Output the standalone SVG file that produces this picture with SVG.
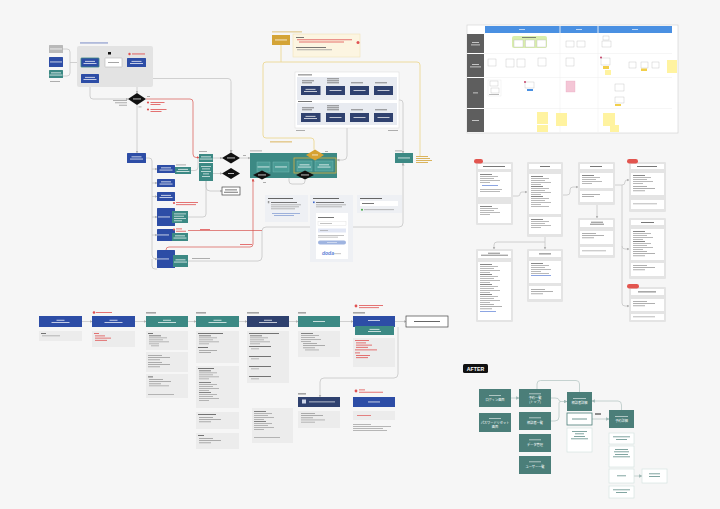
<svg xmlns="http://www.w3.org/2000/svg" width="720" height="509" viewBox="0 0 720 509">
<style>
.bl{fill:#2d4da6}
.tl{fill:#3c8984}
.nv{fill:#2f416f}
.at{fill:#4b7e79}
.wb{fill:#fff;stroke:#444;stroke-width:.7}
.sb{fill:#fff;stroke:#bdbdbd;stroke-width:.4}
.c{fill:none;stroke:#c6c6c6;stroke-width:.8}
.ca{fill:none;stroke:#b9c9c7;stroke-width:.8}
.cr{fill:none;stroke:#d9534f;stroke-width:.7}
.cy{fill:none;stroke:#ecd894;stroke-width:.9}
.g{fill:#9b9b9b}
.gd{fill:#555}
.r{fill:#e05252}
.y{fill:#d4a437}
.w{fill:#fff;opacity:.8}
.nt{fill:#ececec}
.cd{fill:#e4e4e4}
.in{fill:#fff}
.dk{fill:#111}
.pn{fill:#eef0f4}
.t{font-family:"Noto Sans CJK JP","Noto Sans",sans-serif;fill:#fff;font-size:3.2px;text-anchor:middle}
</style>
<defs>
<marker id="ah" viewBox="0 0 6 6" refX="5" refY="3" markerWidth="3" markerHeight="3" markerUnits="userSpaceOnUse" orient="auto"><path d="M0,0L6,3L0,6z" fill="#b0b0b0"/></marker>
<marker id="ahr" viewBox="0 0 6 6" refX="5" refY="3" markerWidth="3" markerHeight="3" markerUnits="userSpaceOnUse" orient="auto"><path d="M0,0L6,3L0,6z" fill="#d9534f"/></marker>
<marker id="aht" viewBox="0 0 6 6" refX="5" refY="3" markerWidth="3.5" markerHeight="3.5" markerUnits="userSpaceOnUse" orient="auto"><path d="M0,0L6,3L0,6z" fill="#9fb8b5"/></marker>
<g id="wl"><rect x="-5" y="-1.6" width="10" height="0.9" class="w"/><rect x="-6.5" y="0.6" width="13" height="0.9" class="w"/></g>
<g id="wl1"><rect x="-6" y="-0.5" width="12" height="0.9" class="w"/></g>
<g id="wlw"><rect x="-4" y="-1.7" width="8" height="0.9" class="w"/><rect x="-9" y="0.6" width="18" height="0.9" class="w"/></g>
<g id="l3"><rect x="0" y="0" width="14" height="0.8" class="g"/><rect x="0" y="2.2" width="22" height="0.8" class="g"/><rect x="0" y="4.4" width="12" height="0.8" class="g"/></g>
<g id="l2"><rect x="0" y="0" width="18" height="0.8" class="g"/><rect x="0" y="2.2" width="12" height="0.8" class="g"/></g>
<g id="r3"><rect x="0" y="0" width="10" height="0.8" class="r"/><rect x="0" y="2.2" width="16" height="0.8" class="r"/><rect x="0" y="4.4" width="12" height="0.8" class="r"/></g>
<g id="c5"><rect x="0" y="0" width="12" height="0.7" class="gd"/><rect x="0" y="2" width="18" height="0.7" class="g"/><rect x="0" y="4" width="14" height="0.7" class="g"/><rect x="0" y="6" width="20" height="0.7" class="g"/><rect x="0" y="8" width="10" height="0.7" class="g"/></g>
</defs>

<rect x="0" y="0" width="720" height="509" fill="#f6f6f6"/>

<!-- ============ CONNECTORS ============ -->
<g id="connectors">
  <!-- top-left -->
  <path class="c" d="M63,49 H67 Q70,49 70,52 V73 Q70,76 67,76 H63"/>
  <path class="c" d="M70,62.5 H81" marker-end="url(#ah)"/>
  <path class="c" d="M99,62.5 H105" marker-end="url(#ah)"/>
  <path class="c" d="M122,62.5 H127" marker-end="url(#ah)"/>
  <path class="c" d="M137,67 V93" marker-end="url(#ah)"/>
  <path class="c" d="M90,83 V96 Q90,99 93,99 H128" marker-end="url(#ah)"/>
  <path class="c" d="M99,78.5 H228 Q231,78.5 231,81.5 V152.5" marker-end="url(#ah)"/>
  <path class="c" d="M137,105 V153" marker-end="url(#ah)"/>
  <path class="cr" d="M146,99 H190 Q193,99 193,102 V154 Q193,157.5 196,157.5 H199" marker-end="url(#ahr)"/>
  <!-- middle-left column -->
  <path class="c" d="M146,158 H149 Q152,158 152,161 V255 Q152,259 156,259 H157" marker-end="url(#ah)"/>
  <path class="c" d="M152,169 H157" marker-end="url(#ah)"/>
  <path class="c" d="M152,183 H157" marker-end="url(#ah)"/>
  <path class="c" d="M152,196.5 H157" marker-end="url(#ah)"/>
  <path class="c" d="M152,217 H157" marker-end="url(#ah)"/>
  <path class="c" d="M152,235 H157" marker-end="url(#ah)"/>
  <path class="c" d="M191,170.5 H195 Q198,170.5 198,167 V160 Q198,158 199,158"/>
  <path class="c" d="M188,217 H203 Q206,217 206,214 V181"/>
  <path class="c" d="M213,158 H222" marker-end="url(#ah)"/>
  <path class="c" d="M240,158 H250" marker-end="url(#ah)"/>
  <path class="c" d="M213,173.5 H222" marker-end="url(#ah)"/>
  <path class="c" d="M206,181 V187 Q206,191 210,191 H222" marker-end="url(#ah)"/>
  <path class="c" d="M188,261 H258 Q262,261 262,257 V231 Q262,227 266,227 H399 Q403,227 403,223 V163" marker-end="url(#ah)"/>
  <path class="c" d="M152,259 V266 Q152,269 155,269 H157"/>
  <path class="cr" d="M188,230.5 H262"/>
  <path class="cr" d="M166,250 V250 Q166,247 169,247 H250 Q253,247 253,244 V179" marker-end="url(#ahr)"/>
  <!-- middle region -->
  <path class="c" d="M297,175 H292 Q289,175 289,178 V181 Q289,184 292,184 H302 Q305,184 305,181 V180"/>
  <path class="c" d="M347,128 V156 Q347,160 343,160 H337" marker-end="url(#ah)"/>
  <path class="c" d="M399,100 H400 Q403,100 403,103 V153" marker-end="url(#ah)"/>
  <path class="c" d="M320.5,90.5 H326" marker-end="url(#ah)"/>
  <path class="c" d="M345,90.5 H350" marker-end="url(#ah)"/>
  <path class="c" d="M369,90.5 H374" marker-end="url(#ah)"/>
  <path class="c" d="M320.5,117.5 H326" marker-end="url(#ah)"/>
  <path class="c" d="M345,117.5 H350" marker-end="url(#ah)"/>
  <path class="c" d="M369,117.5 H374" marker-end="url(#ah)"/>
  <!-- yellow -->
  <path class="cy" d="M281,45 V62"/>
  <path class="cy" d="M266,62 H417 Q420,62 420,65 V156"/>
  <path class="cy" d="M266,62 Q263,62 263,65 V135 Q263,138 266,138 H311 Q314,138 314,141 V149.5"/>
  <!-- bottom-left row -->
  <path class="c" d="M82,321.5 H92" marker-end="url(#ah)"/>
  <path class="c" d="M135,321.5 H146" marker-end="url(#ah)"/>
  <path class="c" d="M188,321.5 H196" marker-end="url(#ah)"/>
  <path class="c" d="M239,321.5 H247" marker-end="url(#ah)"/>
  <path class="c" d="M289,321.5 H298" marker-end="url(#ah)"/>
  <path class="c" d="M340,321.5 H353" marker-end="url(#ah)"/>
  <path class="c" d="M395,321.5 H406" marker-end="url(#ah)"/>
  <path class="c" d="M398,327 V374 Q398,378 394,378 H324 Q320,378 320,382 V397" marker-end="url(#ah)"/>
  <!-- right cards -->
  <path class="c" d="M513,196 H518 Q520,196 520,194 Q520,192 522,192 H527" marker-end="url(#ah)"/>
  <path class="c" d="M563,195 H567 Q570,195 570,192 V190 Q570,187 573,187 H578" marker-end="url(#ah)"/>
  <path class="c" d="M615,185 H622 Q625,185 625,182 Q625,180 627,180 H629" marker-end="url(#ah)"/>
  <path class="c" d="M622,185 V246 Q622,249 625,249 H629" marker-end="url(#ah)"/>
  <path class="c" d="M622,246 V303 Q622,306 625,306 H629" marker-end="url(#ah)"/>
  <path class="c" d="M597,205 V218" marker-end="url(#ah)"/>
  <path class="c" d="M545,237 V249" marker-end="url(#ah)"/>
  <path class="c" d="M545,242 H497 Q494,242 494,245 V249" marker-end="url(#ah)"/>
  <!-- AFTER -->
  <path class="ca" d="M511,398 H519" marker-end="url(#aht)"/>
  <path class="ca" d="M537,389 V384 Q537,380.5 540.5,380.5 H576 Q579.5,380.5 579.5,384 V392"/>
  <path class="ca" d="M551,398 H555 Q559,398 559,400 Q559,401.5 561,401.5 H567" marker-end="url(#aht)"/>
  <path class="ca" d="M551,421 H555 Q559,421 559,417 V403 Q559,401.5 561,401.5"/>
  <path class="ca" d="M592,419 H609" marker-end="url(#aht)"/>
  <path class="ca" d="M621.5,410 V405 Q621.5,401 618,401 H592" marker-end="url(#aht)"/>
  <path class="ca" d="M634,476 H642" marker-end="url(#aht)"/>
  <!-- swimlane -->
  <path class="c" d="M519,48 V56 Q519,62 521,59"/>
  <path class="c" d="M529.5,48 V82"/>
  <path class="c" d="M519,66 Q517,80 526,84"/>
  <path class="c" d="M542,48 V58"/>
  <path class="c" d="M574,87 Q570,108 566,113"/>
  <path class="c" d="M607,47 Q618,52 617,84"/>
  <path class="c" d="M606,43 V57"/>
  <path class="c" d="M619,91 V97"/>
</g>

<!-- ============ TOP-LEFT FLOW ============ -->
<g id="region-top"><rect x="77" y="46" width="76" height="41" rx="2" fill="#e3e3e3"/><rect x="80" y="42.5" width="28" height="0.9" fill="#6d80c0"/></g>
<g id="src-1"><rect x="49" y="45" width="14" height="8" rx="0.5" fill="#b9b9b9"/><use href="#wl1" x="56" y="49"/></g>
<g id="src-2"><rect x="49" y="57" width="14" height="10" rx="0.5" class="bl"/><use href="#wl1" x="56" y="62"/></g>
<g id="src-3"><rect x="49" y="70" width="14" height="8" rx="0.5" class="tl"/><use href="#wl" x="56" y="74"/><rect x="50" y="81" width="10" height="0.8" class="g"/></g>
<g id="node-a"><rect x="81" y="58" width="18" height="9" rx="0.5" class="bl" stroke="#3c8984" stroke-width="0.8"/><use href="#wl" x="90" y="62.5"/></g>
<g id="node-b"><rect x="105" y="58" width="17" height="9" rx="0.5" fill="#fff" stroke="#b5b5b5" stroke-width="0.6"/><rect x="108" y="62" width="11" height="0.9" class="g"/><rect x="108" y="52" width="3" height="2.5" class="dk"/></g>
<g id="node-c"><rect x="127" y="58" width="19" height="9" rx="0.5" class="bl"/><use href="#wl" x="136.5" y="62.5"/><circle cx="129.5" cy="54" r="1.2" class="r"/><rect x="132" y="53.5" width="13" height="0.9" class="r"/></g>
<g id="node-d"><rect x="81" y="74" width="18" height="9" rx="0.5" class="bl"/><use href="#wl" x="90" y="78.5"/></g>
<g id="dia-1"><polygon points="137,93 146,99 137,105 128,99" class="dk"/><rect x="133" y="98.5" width="8" height="0.9" class="w"/>
  <rect x="113" y="100" width="14" height="0.8" class="g"/><rect x="115" y="102.4" width="12" height="0.8" class="g"/><rect x="119" y="104.8" width="8" height="0.8" class="g"/>
  <rect x="147" y="96" width="3" height="0.8" class="g"/><rect x="138.5" y="106.5" width="3" height="0.8" class="g"/>
  <circle cx="148" cy="102.5" r="1.1" class="r"/><rect x="150.5" y="102" width="14" height="0.8" class="r"/><rect x="150.5" y="104" width="10" height="0.8" class="r"/>
  <circle cx="148" cy="109.5" r="1.1" class="r"/><rect x="150.5" y="109" width="16" height="0.8" class="r"/><rect x="150.5" y="111" width="11" height="0.8" class="r"/></g>

<!-- ============ MIDDLE-LEFT ============ -->
<g id="node-e"><rect x="127" y="153" width="19" height="10" rx="0.5" class="bl"/><use href="#wl" x="136.5" y="158"/></g>
<g id="node-f1"><rect x="157" y="165" width="18" height="8" rx="0.5" class="bl"/><use href="#wl" x="166" y="169"/><rect x="175" y="167" width="16" height="7" class="tl"/><use href="#wl" x="183" y="170.5"/><rect x="176" y="164.5" width="10" height="0.8" class="g"/></g>
<g id="node-f2"><rect x="157" y="179" width="18" height="8" rx="0.5" class="bl"/><use href="#wl" x="166" y="183"/></g>
<g id="node-f3"><rect x="157" y="192" width="18" height="9" rx="0.5" class="bl"/><use href="#wl" x="166" y="196.5"/></g>
<g id="node-f4"><rect x="157" y="208" width="18" height="18" rx="0.5" class="bl"/><use href="#wl1" x="164" y="217"/><rect x="172" y="211" width="16" height="12" class="tl"/><rect x="174" y="213.5" width="12" height="0.8" class="w"/><rect x="174" y="215.8" width="10" height="0.8" class="w"/><rect x="174" y="218.1" width="12" height="0.8" class="w"/><rect x="174" y="220.4" width="8" height="0.8" class="w"/>
  <circle cx="174" cy="203" r="1.1" class="r"/><rect x="176" y="202" width="22" height="0.8" class="r"/><rect x="176" y="204.3" width="20" height="0.8" class="r"/></g>
<g id="node-f5"><rect x="157" y="229" width="18" height="12" rx="0.5" class="bl"/><use href="#wl1" x="163" y="235"/><rect x="172" y="233" width="16" height="8" class="tl"/><use href="#wl" x="180" y="237"/>
  <circle cx="174" cy="229.5" r="1.1" class="r"/><rect x="176" y="228.5" width="6" height="0.8" class="r"/><rect x="176" y="230.8" width="10" height="0.8" class="r"/></g>
<g id="node-f6"><rect x="157" y="250" width="18" height="18" rx="0.5" class="bl"/><use href="#wl1" x="163" y="259"/><rect x="173" y="255" width="15" height="12" class="tl"/><use href="#wl" x="180.5" y="261"/><rect x="192" y="258" width="18" height="0.8" class="g"/></g>
<g id="node-g1"><rect x="199" y="154" width="14" height="8" class="tl"/><use href="#wl" x="206" y="158"/><rect x="199" y="151" width="8" height="0.8" class="g"/></g>
<g id="node-g2"><rect x="199" y="163" width="14" height="18" class="tl"/><rect x="201" y="166" width="10" height="0.8" class="w"/><rect x="202" y="168.5" width="8" height="0.8" class="w"/><rect x="201" y="171" width="10" height="0.8" class="w"/><rect x="203" y="173.5" width="6" height="0.8" class="w"/><rect x="202" y="176" width="8" height="0.8" class="w"/></g>
<g id="dia-2"><polygon points="231,152.5 240,158 231,163.5 222,158" class="dk"/><rect x="227" y="157.5" width="8" height="0.9" class="w"/><rect x="243" y="155" width="3" height="0.8" class="g"/></g>
<g id="dia-3"><polygon points="231,168 240,173.5 231,179 222,173.5" class="dk"/><rect x="228" y="173" width="6" height="0.9" class="w"/></g>
<g id="node-h"><rect x="222" y="187" width="18" height="8" class="wb"/><rect x="225" y="189.5" width="12" height="0.8" class="gd"/><rect x="224" y="191.8" width="14" height="0.8" class="gd"/></g>
<g id="red-notes"><rect x="240" y="244" width="12" height="0.8" class="r"/><rect x="200" y="229" width="10" height="0.8" class="r"/></g>

<!-- ============ TEAL REGION ============ -->
<g id="region-teal"><rect x="250" y="153" width="87" height="25" class="tl"/><rect x="250" y="150.5" width="12" height="0.8" class="g"/>
  <rect x="257" y="162" width="13" height="10" fill="#4a9c96" stroke="#7fc0bb" stroke-width="0.4"/><use href="#wl1" x="263.5" y="167"/>
  <rect x="273" y="162" width="16" height="10" fill="#4a9c96" stroke="#7fc0bb" stroke-width="0.4"/><use href="#wl1" x="281" y="167"/>
  <rect x="294" y="158" width="42" height="15" fill="none" stroke="#d9b040" stroke-width="0.8"/>
  <rect x="297" y="161" width="15" height="10" fill="#4a9c96" stroke="#7fc0bb" stroke-width="0.4"/><use href="#wl" x="304.5" y="166"/>
  <rect x="315" y="161" width="18" height="10" fill="#4a9c96" stroke="#7fc0bb" stroke-width="0.4"/><use href="#wl" x="324" y="166"/></g>
<g id="dia-gold"><polygon points="315,149.5 324,155 315,160.5 306,155" fill="#d6a232"/><rect x="312" y="154.5" width="6" height="0.9" class="w"/><rect x="325" y="151" width="3" height="0.8" class="g"/></g>
<g id="dia-4"><polygon points="262,170.5 271,175 262,179.5 253,175" class="dk"/><rect x="258" y="174.5" width="8" height="0.9" class="w"/><rect x="263" y="182" width="3" height="0.8" class="g"/></g>
<g id="dia-5"><polygon points="305,170.5 314,175 305,179.5 296,175" class="dk"/><rect x="301" y="174.5" width="8" height="0.9" class="w"/></g>
<g id="node-teal-r"><rect x="395" y="153" width="18" height="10" class="tl"/><use href="#wl1" x="404" y="158"/><rect x="395" y="150.5" width="7" height="0.8" class="g"/>
  <rect x="416" y="156" width="12" height="0.8" class="y"/><rect x="416" y="158" width="14" height="0.8" class="y"/><rect x="416" y="160" width="16" height="0.8" class="y"/><rect x="416" y="162" width="12" height="0.8" class="y"/></g>

<!-- ============ GOLD + NOTE ============ -->
<g id="node-gold"><rect x="272" y="35" width="18" height="10" fill="#d4a437"/><use href="#wl1" x="281" y="40"/><rect x="272" y="31.5" width="30" height="0.8" fill="#d8b45a"/></g>
<g id="note-cream"><rect x="293" y="34" width="67" height="23" fill="#fcf5e1" stroke="#efe0b0" stroke-width="0.5"/>
  <rect x="296" y="37" width="8" height="0.8" class="gd"/><rect x="297" y="39.4" width="55" height="0.8" class="r"/><rect x="299" y="41.6" width="45" height="0.8" class="r"/>
  <circle cx="358" cy="42.5" r="1.5" class="r"/><rect x="296" y="47" width="30" height="0.8" class="gd"/><rect x="297" y="49.4" width="35" height="0.8" class="g"/>
  <rect x="270" y="141.5" width="22" height="0.8" class="y"/></g>

<!-- ============ BIG PANEL ============ -->
<g id="panel-main"><rect x="295" y="72" width="104" height="56" fill="#fff" stroke="#d9d9d9" stroke-width="0.5"/>
  <rect x="298" y="74.5" width="14" height="0.8" class="gd"/>
  <rect x="297" y="77" width="100" height="23" fill="#e8ebf1"/><rect x="298" y="101" width="14" height="0.8" class="gd"/>
  <rect x="297" y="103" width="100" height="22" fill="#e8ebf1"/>
  <rect x="296" y="130" width="9" height="0.8" class="g"/><rect x="388" y="130" width="10" height="0.8" class="g"/></g>
<g id="p-n1"><rect x="301" y="86" width="19.5" height="9" class="nv"/><use href="#wl" x="310.5" y="90.5"/><rect x="302" y="80.5" width="12" height="0.7" class="gd"/><rect x="302" y="82.5" width="10" height="0.7" class="gd"/></g>
<g id="p-n2"><rect x="326" y="86" width="19" height="9" class="nv"/><use href="#wl1" x="335.5" y="90.5"/><rect x="327" y="78.5" width="12" height="0.7" class="gd"/><rect x="327" y="80.5" width="12" height="0.7" class="gd"/><rect x="327" y="82.5" width="12" height="0.7" class="gd"/></g>
<g id="p-n3"><rect x="350" y="86" width="19" height="9" class="nv"/><use href="#wl1" x="359.5" y="90.5"/><rect x="351" y="82.5" width="12" height="0.7" class="gd"/></g>
<g id="p-n4"><rect x="374" y="86" width="19" height="9" class="nv"/><use href="#wl1" x="383.5" y="90.5"/><rect x="375" y="82.5" width="12" height="0.7" class="gd"/></g>
<g id="p-n5"><rect x="301" y="113" width="19.5" height="9" class="nv"/><use href="#wl" x="310.5" y="117.5"/><rect x="302" y="107.5" width="12" height="0.7" class="gd"/><rect x="302" y="109.5" width="10" height="0.7" class="gd"/></g>
<g id="p-n6"><rect x="326" y="113" width="19" height="9" class="nv"/><use href="#wl1" x="335.5" y="117.5"/><rect x="327" y="105.5" width="12" height="0.7" class="gd"/><rect x="327" y="107.5" width="12" height="0.7" class="gd"/><rect x="327" y="109.5" width="12" height="0.7" class="gd"/></g>
<g id="p-n7"><rect x="350" y="113" width="19" height="9" class="nv"/><use href="#wl1" x="359.5" y="117.5"/><rect x="351" y="109.5" width="12" height="0.7" class="gd"/></g>
<g id="p-n8"><rect x="374" y="113" width="19" height="9" class="nv"/><use href="#wl1" x="383.5" y="117.5"/><rect x="375" y="109.5" width="12" height="0.7" class="gd"/></g>

<!-- ============ SCREEN PANELS ============ -->
<g id="screen-1"><rect x="265" y="195" width="43" height="27" class="pn"/>
  <rect x="268" y="198" width="25" height="0.9" class="gd"/><rect x="268" y="201.5" width="1.6" height="1.6" fill="#fff" stroke="#888" stroke-width="0.3"/><rect x="271" y="202" width="26" height="0.8" class="gd"/>
  <rect x="271" y="204.5" width="30" height="0.7" class="g"/><rect x="271" y="206.5" width="28" height="0.7" class="g"/><rect x="271" y="208.5" width="24" height="0.7" class="g"/>
  <rect x="272" y="213" width="28" height="0.7" fill="#7a95d0"/><rect x="274" y="215" width="20" height="0.7" fill="#7a95d0"/></g>
<g id="screen-2"><rect x="310" y="195" width="43" height="67" class="pn"/>
  <rect x="313" y="198" width="26" height="0.9" class="gd"/><rect x="313" y="201.5" width="1.6" height="1.6" fill="#3b66cc"/><rect x="316" y="202" width="28" height="0.8" class="gd"/>
  <rect x="316" y="204.5" width="30" height="0.7" class="g"/><rect x="316" y="206.5" width="26" height="0.7" class="g"/>
  <rect x="316" y="213" width="32" height="46" fill="#fff"/>
  <rect x="318" y="217" width="16" height="0.8" class="gd"/>
  <rect x="318" y="221.5" width="28" height="4" fill="#fff" stroke="#ddd" stroke-width="0.4"/><rect x="320" y="223.2" width="12" height="0.6" class="g"/>
  <rect x="318" y="228.5" width="28" height="4" fill="#e2e7f5"/><rect x="320" y="230.2" width="8" height="0.6" class="g"/>
  <rect x="318" y="235" width="26" height="0.6" class="g"/><rect x="318" y="236.8" width="20" height="0.6" class="g"/>
  <rect x="318" y="240.5" width="28" height="4" rx="2" fill="#9fb4e0"/><rect x="327" y="242.2" width="10" height="0.6" class="w"/>
  <text x="328" y="255" font-family="Liberation Sans, Arial, sans-serif" font-size="5" font-weight="bold" font-style="italic" fill="#5b7fd6" text-anchor="middle">doda</text><rect x="334" y="253.5" width="7" height="0.6" class="g"/></g>
<g id="screen-3"><rect x="357" y="195" width="45" height="18" class="pn"/>
  <rect x="360" y="198" width="22" height="0.9" class="gd"/><rect x="360" y="201" width="38" height="5" fill="#fff"/><rect x="362" y="203" width="12" height="0.8" class="gd"/>
  <circle cx="362" cy="209.8" r="1" fill="#3aa53a"/><rect x="364" y="209.4" width="30" height="0.7" class="g"/></g>

<!-- ============ SWIMLANE (top-right) ============ -->
<g id="swimlane">
  <rect x="467" y="25" width="211" height="108" fill="#fff" stroke="#cfcfcf" stroke-width="0.6"/>
  <rect x="485" y="26" width="187" height="7" fill="#4a90e2"/>
  <line x1="560" y1="26" x2="560" y2="132" stroke="#ececec" stroke-width="0.5"/>
  <line x1="598" y1="26" x2="598" y2="132" stroke="#ececec" stroke-width="0.5"/>
  <line x1="560" y1="26" x2="560" y2="33" stroke="#fff" stroke-width="0.5"/>
  <line x1="598" y1="26" x2="598" y2="33" stroke="#fff" stroke-width="0.5"/>
  <rect x="519" y="29" width="6" height="0.8" class="w"/><rect x="576" y="29" width="6" height="0.8" class="w"/><rect x="632" y="29" width="6" height="0.8" class="w"/>
  <line x1="484" y1="53.5" x2="672" y2="53.5" stroke="#ececec" stroke-width="0.5"/>
  <line x1="484" y1="77.5" x2="672" y2="77.5" stroke="#ececec" stroke-width="0.5"/>
  <line x1="484" y1="108.5" x2="672" y2="108.5" stroke="#ececec" stroke-width="0.5"/>
  <rect x="467" y="34" width="17" height="19" fill="#5e5e5e"/><rect x="472" y="42" width="7" height="0.8" class="w"/><rect x="471" y="44.5" width="9" height="0.8" class="w"/>
  <rect x="467" y="54" width="17" height="23" fill="#5e5e5e"/><rect x="472" y="64" width="7" height="0.8" class="w"/><rect x="470" y="66.5" width="11" height="0.8" class="w"/>
  <rect x="467" y="78" width="17" height="30" fill="#5e5e5e"/><rect x="473" y="92.5" width="5" height="0.8" class="w"/>
  <rect x="467" y="109" width="17" height="23" fill="#5e5e5e"/><rect x="472" y="120" width="7" height="0.8" class="w"/>
  <rect x="512" y="36" width="35" height="12" rx="2" fill="#d9eeac"/><rect x="522" y="37.3" width="14" height="0.7" class="gd"/>
  <rect x="514" y="40" width="9" height="7" class="sb"/><rect x="525.5" y="40" width="9" height="7" class="sb"/><rect x="537" y="40" width="9" height="7" class="sb"/>
  <rect x="566" y="41" width="8" height="6" class="sb"/><rect x="577" y="41" width="8" height="6" class="sb"/>
  <rect x="603" y="36" width="6" height="4" class="sb"/><rect x="602" y="41" width="9" height="6" class="sb"/>
  <rect x="488" y="59" width="8" height="7" class="sb"/><rect x="506" y="59" width="8" height="8" class="sb"/><rect x="517" y="59" width="8" height="8" class="sb"/><rect x="538" y="58" width="8" height="8" class="sb"/>
  <rect x="566" y="58" width="8" height="8" class="sb"/>
  <rect x="601" y="58" width="9" height="7" class="sb"/><circle cx="601" cy="57.5" r="0.9" fill="#c0305a"/><rect x="603" y="66" width="6" height="3" fill="#f2cf4a"/><rect x="605" y="70" width="6" height="5" fill="#fff3a0"/>
  <rect x="629" y="62" width="7" height="6" class="sb"/><rect x="641" y="62" width="7" height="6" class="sb"/><rect x="641" y="68.5" width="6" height="2.5" fill="#f2cf4a"/><rect x="652" y="62" width="7" height="6" class="sb"/>
  <rect x="667" y="60" width="10" height="13" fill="#fff3a0"/>
  <rect x="488" y="80" width="13" height="16" fill="#fff" stroke="#e5e5e5" stroke-width="0.4"/><rect x="490" y="81" width="8" height="5" class="sb"/><rect x="491" y="88" width="8" height="5" class="sb"/><rect x="489" y="94" width="10" height="0.7" class="g"/>
  <rect x="525" y="82" width="9" height="6" class="sb"/><circle cx="525" cy="82" r="0.9" fill="#c0305a"/><rect x="527" y="89" width="6" height="2" fill="#4a90e2"/>
  <rect x="566" y="81" width="9" height="11" fill="#f4c6d6" stroke="#e6a4bb" stroke-width="0.3"/>
  <rect x="615" y="84" width="9" height="7" class="sb"/><rect x="615" y="97" width="9" height="6" class="sb"/><rect x="615" y="104" width="6" height="2" fill="#f2cf4a"/>
  <rect x="537" y="112" width="11" height="12" fill="#fff3a0"/><rect x="537" y="125" width="11" height="7" fill="#fff3a0"/>
  <rect x="556" y="113" width="11" height="13" fill="#fff3a0"/>
  <rect x="603" y="113" width="12" height="13" fill="#fff3a0"/><rect x="610" y="125" width="9" height="7" fill="#fff3a0"/>
</g>

<!-- ============ RIGHT CARDS ============ -->
<g id="card-1"><rect x="476" y="162" width="37" height="63" rx="1" class="cd"/><rect x="474" y="159" width="9" height="4.5" rx="2.2" fill="#e2554f"/>
  <rect x="478" y="164" width="33" height="5" class="in"/><rect x="483" y="166" width="22" height="0.8" class="gd"/>
  <rect x="478" y="172" width="33" height="25" class="in"/><use href="#c5" x="480" y="174"/><rect x="482" y="185" width="16" height="0.7" fill="#5b7fd6"/><rect x="480" y="189" width="22" height="0.7" class="g"/><rect x="480" y="191" width="20" height="0.7" class="g"/>
  <rect x="478" y="204" width="33" height="19" class="in"/><use href="#c5" x="480" y="206"/></g>
<g id="card-2"><rect x="527" y="162" width="36" height="75" rx="1" class="cd"/>
  <rect x="529" y="164" width="32" height="5" class="in"/><rect x="540" y="166" width="10" height="0.8" class="gd"/>
  <rect x="529" y="174" width="32" height="40" class="in"/><use href="#c5" x="531" y="176"/><use href="#c5" x="531" y="186"/><use href="#c5" x="531" y="196"/><rect x="531" y="206" width="18" height="0.7" class="g"/>
  <rect x="529" y="217" width="32" height="17" class="in"/><use href="#c5" x="531" y="219"/></g>
<g id="card-3"><rect x="578" y="162" width="37" height="43" rx="1" class="cd"/>
  <rect x="580" y="164" width="33" height="5" class="in"/><rect x="590" y="166" width="12" height="0.8" class="gd"/>
  <rect x="580" y="173" width="33" height="15" class="in"/><use href="#c5" x="582" y="175"/>
  <rect x="580" y="191" width="33" height="11" class="in"/><use href="#l2" x="582" y="194"/></g>
<g id="card-4"><rect x="629" y="162" width="37" height="50" rx="1" class="cd"/><rect x="627" y="159" width="11" height="4.5" rx="2.2" fill="#e2554f"/>
  <rect x="631" y="164" width="33" height="5" class="in"/><rect x="637" y="166" width="20" height="0.8" class="gd"/>
  <rect x="631" y="173" width="33" height="22" class="in"/><use href="#c5" x="633" y="175"/><use href="#l3" x="633" y="186"/>
  <rect x="631" y="200" width="33" height="9" class="in"/><rect x="633" y="203.5" width="24" height="0.7" class="g"/></g>
<g id="card-5"><rect x="578" y="218" width="37" height="40" rx="1" class="cd"/>
  <rect x="580" y="220" width="33" height="7" class="in"/><rect x="591" y="221.8" width="12" height="0.7" class="gd"/><rect x="590" y="223.8" width="14" height="0.7" class="gd"/>
  <rect x="580" y="231" width="33" height="13" class="in"/><use href="#l3" x="582" y="233"/>
  <rect x="580" y="247" width="33" height="8" class="in"/><rect x="582" y="250.5" width="24" height="0.7" class="g"/></g>
<g id="card-6"><rect x="629" y="218" width="37" height="61" rx="1" class="cd"/>
  <rect x="631" y="220" width="33" height="5" class="in"/><rect x="641" y="222" width="13" height="0.8" class="gd"/>
  <rect x="631" y="229" width="33" height="31" class="in"/><use href="#c5" x="633" y="231"/><use href="#c5" x="633" y="241"/><use href="#l3" x="633" y="251"/>
  <rect x="631" y="263" width="33" height="13" class="in"/><use href="#l3" x="633" y="265"/></g>
<g id="card-7"><rect x="476" y="249" width="37" height="73" rx="1" class="cd"/>
  <rect x="478" y="251" width="33" height="7" class="in"/><rect x="488" y="252.8" width="12" height="0.7" class="gd"/><rect x="481" y="254.8" width="27" height="0.7" class="gd"/>
  <rect x="478" y="262" width="33" height="58" class="in"/><use href="#c5" x="480" y="264"/><use href="#c5" x="480" y="274"/><use href="#c5" x="480" y="284"/><use href="#c5" x="480" y="294"/><use href="#l3" x="480" y="304"/><rect x="480" y="311" width="16" height="0.7" fill="#5b7fd6"/></g>
<g id="card-8"><rect x="527" y="249" width="36" height="53" rx="1" class="cd"/>
  <rect x="529" y="251" width="32" height="6" class="in"/><rect x="539" y="253.5" width="12" height="0.8" class="gd"/>
  <rect x="529" y="261" width="32" height="22" class="in"/><use href="#c5" x="531" y="263"/><rect x="531" y="273" width="18" height="0.7" class="g"/><rect x="531" y="275" width="20" height="0.7" fill="#5b7fd6"/>
  <rect x="529" y="286" width="32" height="13" class="in"/><use href="#l3" x="531" y="289"/></g>
<g id="card-9"><rect x="629" y="287" width="37" height="35" rx="1" class="cd"/><rect x="627" y="284" width="12" height="4.5" rx="2.2" fill="#e2554f"/>
  <rect x="631" y="289" width="33" height="6" class="in"/><rect x="638" y="291.5" width="18" height="0.8" class="gd"/>
  <rect x="631" y="299" width="33" height="12" class="in"/><use href="#l3" x="633" y="301"/>
  <rect x="631" y="314" width="33" height="6" class="in"/><rect x="633" y="316.5" width="22" height="0.7" class="g"/></g>

<!-- ============ BOTTOM-LEFT ROW ============ -->
<g id="step-1"><rect x="39" y="316" width="43" height="11" class="bl"/><use href="#wlw" x="60.5" y="321.5"/>
  <rect x="39" y="331" width="43" height="10" class="nt"/><rect x="41" y="333" width="5" height="0.8" class="gd"/><rect x="42" y="335.5" width="18" height="0.7" class="g"/></g>
<g id="step-2"><rect x="92" y="316" width="43" height="11" class="bl"/><use href="#wlw" x="113.5" y="321.5"/>
  <circle cx="94" cy="312.5" r="1.3" class="r"/><rect x="96" y="312" width="16" height="0.8" class="r"/>
  <rect x="92" y="331" width="43" height="16" class="nt"/><rect x="94" y="333" width="5" height="0.8" class="r"/><use href="#r3" x="95" y="335.5"/></g>
<g id="step-3"><rect x="146" y="316" width="42" height="11" class="tl"/><use href="#wlw" x="167" y="321.5"/><rect x="146" y="312.5" width="10" height="0.8" class="gd"/>
  <rect x="146" y="331" width="42" height="19" class="nt"/><rect x="148" y="333" width="5" height="0.8" class="gd"/><use href="#c5" x="149" y="335.5"/><rect x="151" y="345.5" width="8" height="0.7" class="g"/>
  <rect x="146" y="352" width="42" height="20" class="nt"/><use href="#l3" x="148" y="355"/><use href="#l3" x="148" y="362"/>
  <rect x="146" y="374" width="42" height="24" class="nt"/><rect x="148" y="376.5" width="5" height="0.8" class="gd"/><use href="#l3" x="149" y="379"/><rect x="149" y="385.5" width="20" height="0.7" class="g"/><rect x="148" y="394" width="26" height="0.7" class="g"/></g>
<g id="step-4"><rect x="196" y="316" width="43" height="11" class="tl"/><use href="#wlw" x="217.5" y="321.5"/><rect x="196" y="312.5" width="10" height="0.8" class="gd"/>
  <rect x="196" y="331" width="43" height="32" class="nt"/><rect x="198" y="333" width="25" height="0.8" class="gd"/><use href="#c5" x="199" y="335.5"/><rect x="198" y="347" width="10" height="0.8" class="gd"/><use href="#l2" x="199" y="350"/>
  <rect x="196" y="366" width="43" height="42" class="nt"/><rect x="198" y="368" width="16" height="0.8" class="gd"/><use href="#c5" x="199" y="370.5"/><use href="#c5" x="199" y="382"/><use href="#c5" x="199" y="392"/>
  <rect x="196" y="412" width="43" height="17" class="nt"/><rect x="198" y="414" width="18" height="0.8" class="gd"/><use href="#l3" x="199" y="417"/>
  <rect x="196" y="433" width="43" height="16" class="nt"/><rect x="198" y="435" width="6" height="0.8" class="gd"/><use href="#l3" x="199" y="438"/></g>
<g id="step-5"><rect x="247" y="316" width="42" height="11" class="nv"/><use href="#wlw" x="268" y="321.5"/><rect x="247" y="312.5" width="12" height="0.8" class="gd"/>
  <rect x="247" y="331" width="42" height="52" class="nt"/><rect x="249" y="333" width="30" height="0.8" class="gd"/><use href="#c5" x="250" y="335.5"/><rect x="249" y="346" width="22" height="0.8" class="gd"/><rect x="251" y="348.5" width="8" height="0.7" class="g"/><rect x="249" y="356" width="22" height="0.8" class="gd"/><rect x="251" y="358.5" width="8" height="0.7" class="g"/><rect x="249" y="366" width="22" height="0.8" class="gd"/><rect x="251" y="368.5" width="8" height="0.7" class="g"/><rect x="249" y="376" width="22" height="0.8" class="gd"/><rect x="251" y="378.5" width="8" height="0.7" class="g"/>
  <rect x="252" y="408" width="41" height="35" class="nt"/><use href="#c5" x="254" y="411"/><use href="#c5" x="254" y="421"/><rect x="254" y="437" width="26" height="0.7" class="g"/></g>
<g id="step-6"><rect x="298" y="316" width="42" height="11" class="tl"/><use href="#wl1" x="319" y="321.5"/><rect x="298" y="312.5" width="8" height="0.8" class="gd"/>
  <rect x="298" y="331" width="42" height="26" class="nt"/><use href="#c5" x="301" y="333"/><use href="#l3" x="303" y="343"/><rect x="305" y="349.6" width="14" height="0.7" class="g"/></g>
<g id="step-7"><rect x="353" y="316" width="42" height="11" class="bl"/><use href="#wl1" x="374" y="320.5"/><rect x="355" y="326" width="39" height="9" class="tl"/><use href="#wl" x="374.5" y="330.5"/>
  <rect x="353" y="312.5" width="12" height="0.8" class="gd"/><circle cx="356" cy="306" r="1.4" class="r"/><rect x="359" y="305" width="24" height="0.8" class="r"/><rect x="359" y="307.3" width="20" height="0.8" class="r"/>
  <rect x="353" y="338" width="42" height="29" class="nt"/><rect x="355" y="340" width="14" height="0.8" class="r"/><use href="#r3" x="356" y="342.5"/><rect x="355" y="349.5" width="22" height="0.8" class="r"/><rect x="355" y="352.5" width="5" height="0.8" class="r"/><rect x="356" y="355" width="14" height="0.8" class="r"/><rect x="356" y="357.3" width="12" height="0.8" class="r"/></g>
<g id="step-8"><rect x="406" y="316" width="42" height="11" class="wb"/><rect x="414" y="321" width="26" height="0.9" class="gd"/></g>
<g id="step-9"><rect x="298" y="397" width="42" height="10" class="nv"/><rect x="302" y="399.5" width="4" height="4" fill="#cdd6ea"/><rect x="309" y="401.5" width="26" height="0.8" class="w"/><rect x="298" y="393.5" width="8" height="0.8" class="gd"/>
  <rect x="298" y="411" width="42" height="17" class="nt"/><use href="#l3" x="301" y="413"/><rect x="301" y="419.6" width="24" height="0.7" class="g"/><rect x="301" y="421.8" width="14" height="0.7" class="g"/></g>
<g id="step-10"><rect x="353" y="397" width="42" height="10" class="bl"/><use href="#wl1" x="374" y="402"/>
  <circle cx="356" cy="391" r="1.4" class="r"/><rect x="359" y="389.5" width="6" height="0.8" class="r"/><rect x="359" y="391.8" width="24" height="0.8" class="r"/>
  <rect x="353" y="411" width="42" height="9" class="nt"/><rect x="357" y="415" width="14" height="0.7" class="r"/>
  <rect x="353" y="424" width="18" height="0.7" class="g"/><rect x="353" y="426" width="38" height="0.7" class="g"/><rect x="353" y="428" width="30" height="0.7" class="g"/><rect x="353" y="430" width="34" height="0.7" class="g"/></g>

<!-- ============ AFTER ============ -->
<g id="after-label"><rect x="463" y="364" width="25" height="9" rx="1.5" fill="#111"/><text x="475.5" y="370.6" font-family="Liberation Sans, Arial, sans-serif" font-size="5.2" font-weight="bold" fill="#fff" text-anchor="middle">AFTER</text></g>
<g id="scr-login"><rect x="479" y="389" width="32" height="18" class="at"/><rect x="489" y="395" width="12" height="0.7" class="w"/><text class="t" x="495" y="400.5">ログイン画面</text></g>
<g id="scr-reset"><rect x="479" y="413" width="32" height="19" class="at"/><rect x="489" y="418" width="12" height="0.7" class="w"/><text class="t" x="495" y="423.5">パスワードリセット</text><text class="t" x="495" y="428">画面</text></g>
<g id="scr-resv"><rect x="519" y="389" width="32" height="18" class="at"/><rect x="529" y="393.5" width="12" height="0.7" class="w"/><text class="t" x="535" y="399">予約一覧</text><text class="t" x="535" y="403">(トップ)</text></g>
<g id="scr-cons"><rect x="519" y="412" width="32" height="18" class="at"/><rect x="529" y="417.5" width="12" height="0.7" class="w"/><text class="t" x="535" y="423.5">相談者一覧</text></g>
<g id="scr-data"><rect x="519" y="434" width="32" height="18" class="at"/><rect x="529" y="439.5" width="12" height="0.7" class="w"/><text class="t" x="535" y="445.5">データ管理</text></g>
<g id="scr-user"><rect x="519" y="456" width="32" height="18" class="at"/><rect x="529" y="461.5" width="12" height="0.7" class="w"/><text class="t" x="535" y="467.5">ユーザー一覧</text></g>
<g id="scr-consdet"><rect x="567" y="392" width="25" height="19" class="at"/><rect x="573" y="398" width="13" height="0.7" class="w"/><text class="t" x="579.5" y="403.5">相談者詳細</text>
  <rect x="567" y="413" width="25" height="12" fill="#fff" stroke="#4b7e79" stroke-width="0.8"/><rect x="572" y="418.6" width="15" height="0.8" fill="#4b7e79"/>
  <rect x="567" y="428" width="25" height="24" fill="#fff" stroke="#cfe0de" stroke-width="0.6"/><rect x="572" y="431" width="15" height="0.7" fill="#4b7e79"/><rect x="575" y="433.5" width="9" height="0.7" fill="#4b7e79"/><rect x="574" y="436" width="11" height="0.7" fill="#4b7e79"/><rect x="571" y="438.5" width="17" height="0.7" fill="#4b7e79"/>
  <rect x="595" y="413.5" width="6" height="1" fill="#222"/></g>
<g id="scr-resvdet"><rect x="609" y="410" width="25" height="18" class="at"/><rect x="615" y="416" width="13" height="0.7" class="w"/><text class="t" x="621.5" y="421.5">予約詳細</text>
  <rect x="609" y="433" width="25" height="11" fill="#fff" stroke="#cfe0de" stroke-width="0.6"/><rect x="613" y="436.5" width="17" height="0.7" fill="#4b7e79"/><rect x="616" y="439" width="11" height="0.7" fill="#4b7e79"/>
  <rect x="609" y="446" width="25" height="21" fill="#fff" stroke="#cfe0de" stroke-width="0.6"/><rect x="615" y="449" width="13" height="0.7" fill="#4b7e79"/><rect x="614" y="451.5" width="15" height="0.7" fill="#4b7e79"/><rect x="615" y="454" width="13" height="0.7" fill="#4b7e79"/><rect x="613" y="456.5" width="17" height="0.7" fill="#4b7e79"/>
  <rect x="609" y="469" width="25" height="14" fill="#fff" stroke="#cfe0de" stroke-width="0.6"/><rect x="617" y="475.5" width="9" height="0.7" fill="#4b7e79"/>
  <rect x="609" y="486" width="25" height="12" fill="#fff" stroke="#cfe0de" stroke-width="0.6"/><rect x="613" y="489.5" width="17" height="0.7" fill="#4b7e79"/><rect x="616" y="492" width="11" height="0.7" fill="#4b7e79"/></g>
<g id="scr-hist"><rect x="642" y="469" width="25" height="14" fill="#fff" stroke="#cfe0de" stroke-width="0.6"/><rect x="649" y="473.5" width="11" height="0.7" fill="#4b7e79"/><rect x="649" y="476" width="11" height="0.7" fill="#4b7e79"/></g>
</svg>
